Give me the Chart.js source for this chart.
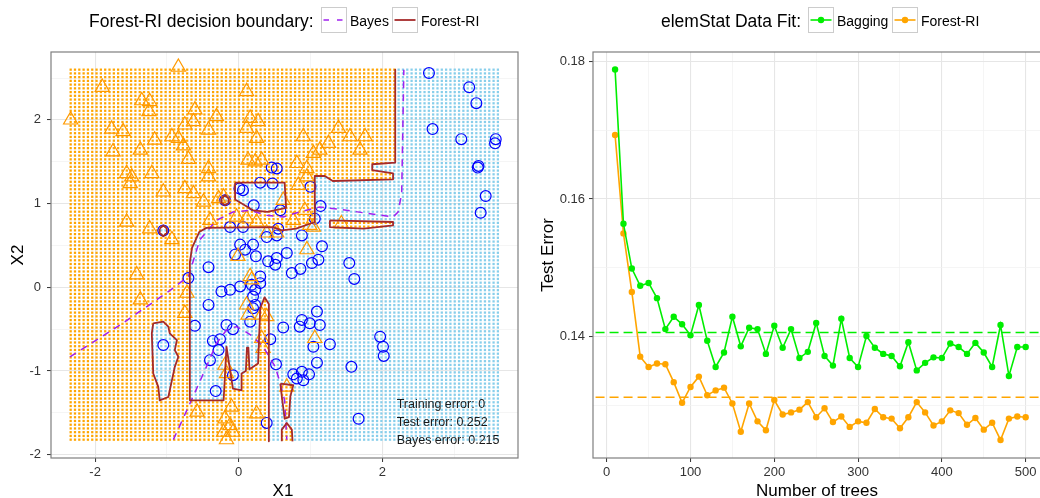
<!DOCTYPE html>
<html>
<head>
<meta charset="utf-8">
<script src="https://cdn.jsdelivr.net/npm/chart.js@4.4.1/dist/chart.umd.min.js"></script>
<style>
  body { margin: 0; background: #fff; }
  canvas { position: absolute; top: 0; }
  #boundary { left: 0; }
  #fit { left: 520px; }
</style>
</head>
<body>
<canvas id="boundary" width="520" height="498"></canvas>
<canvas id="fit" width="520" height="498"></canvas>
<script>
const FONT = "'Liberation Sans', Arial, Helvetica, sans-serif";

// ---------- right panel: test error vs number of trees ----------
const trees = [10, 20, 30, 40, 50, 60, 70, 80, 90, 100, 110, 120, 130, 140, 150, 160, 170, 180, 190, 200,
  210, 220, 230, 240, 250, 260, 270, 280, 290, 300, 310, 320, 330, 340, 350, 360, 370, 380, 390, 400,
  410, 420, 430, 440, 450, 460, 470, 480, 490, 500];
const baggingError = [0.1788, 0.1564, 0.1499, 0.1474, 0.1478, 0.1456, 0.1411, 0.1429, 0.1418, 0.1402,
  0.1446, 0.1394, 0.1356, 0.1377, 0.1429, 0.1386, 0.1413, 0.1411, 0.1375, 0.1416,
  0.1384, 0.1411, 0.1369, 0.1378, 0.1420, 0.1372, 0.1358, 0.1426, 0.1369, 0.1356,
  0.1401, 0.1384, 0.1375, 0.1372, 0.1357, 0.1392, 0.1351, 0.1362, 0.1370, 0.1369,
  0.1390, 0.1385, 0.1375, 0.1391, 0.1377, 0.1356, 0.1417, 0.1343, 0.1385, 0.1385];
const forestError = [0.1693, 0.1550, 0.1465, 0.1371, 0.1356, 0.1361, 0.1360, 0.1334, 0.1304, 0.1327,
  0.1342, 0.1315, 0.1322, 0.1326, 0.1303, 0.1262, 0.1303, 0.1277, 0.1264, 0.1308,
  0.1287, 0.1290, 0.1294, 0.1305, 0.1283, 0.1296, 0.1276, 0.1284, 0.1269, 0.1277,
  0.1275, 0.1295, 0.1283, 0.1281, 0.1267, 0.1283, 0.1305, 0.1290, 0.1271, 0.1277,
  0.1293, 0.1289, 0.1272, 0.1282, 0.1265, 0.1275, 0.1250, 0.1281, 0.1284, 0.1283];
const baggingMean = 0.1406;
const forestMean = 0.1312;
const treeGrid = [0, 50, 100, 150, 200, 250, 300, 350, 400, 450, 500];
const treeLabels = [0, 100, 200, 300, 400, 500];
const errorGrid = [0.13, 0.14, 0.15, 0.16, 0.17, 0.18];
const errorLabels = [0.14, 0.16, 0.18];

// ---------- left panel: decision boundary ----------
const x1Grid = [-2, -1, 0, 1, 2, 3];
const x1Labels = [-2, 0, 2];
const x2Grid = [-2, -1.5, -1, -0.5, 0, 0.5, 1, 1.5, 2, 2.5];
const x2Labels = [-2, -1, 0, 1, 2];

// training points, class 0 (triangles) and class 1 (circles)
const class0 = [[-2.34,2.00],[-1.90,2.39],[-0.84,2.63],[-1.35,2.23],[-1.24,2.22],[-1.25,2.10],[-1.77,1.89],
  [-1.61,1.86],[-1.17,1.76],[-1.75,1.62],[-1.37,1.64],[-0.93,1.80],[-0.84,1.78],[-0.77,1.69],[-0.75,1.94],
  [-0.63,1.98],[-0.61,2.12],[-0.42,1.88],[-0.31,2.04],[0.11,2.34],[0.16,2.02],[0.27,1.98],[0.11,1.90],
  [0.25,1.78],[-0.70,1.53],[-0.42,1.42],[-0.42,1.32],[-1.56,1.36],[-1.49,1.32],[-1.51,1.24],[-1.21,1.36],
  [-1.05,1.14],[-0.75,1.18],[-0.63,1.12],[-0.49,1.02],[-0.28,1.06],[0.13,1.52],[0.23,1.50],[0.32,1.52],
  [-1.56,0.78],[-1.24,0.70],[-0.93,0.57],[-0.40,0.80],[0.39,0.65],[0.53,0.65],[-0.01,0.37],[0.81,1.48],
  [0.95,1.42],[1.04,1.60],[0.90,1.80],[-0.21,1.08],[-0.03,0.84],[0.11,0.82],[0.25,0.78],[0.95,0.45],
  [1.04,0.72],[0.16,0.13],[1.39,1.90],[1.55,1.80],[1.76,1.80],[1.25,1.72],[1.13,1.64],[1.69,1.64],
  [0.95,1.32],[0.83,1.22],[0.62,1.04],[0.92,0.92],[0.76,0.80],[0.99,0.74],[1.43,0.76],[-1.42,0.15],
  [-1.37,-0.15],[-0.72,-0.07],[-0.75,-0.31],[0.18,0.09],[0.11,-0.21],[0.13,-0.33],[0.32,-0.33],[0.32,-0.61],
  [-0.19,-0.93],[-0.17,-1.03],[-0.58,-1.49],[-0.10,-1.43],[-0.19,-1.57],[-0.12,-1.65],[-0.21,-1.73],
  [-0.08,-1.73],[-0.17,-1.82],[0.25,-1.51],[0.67,-1.19],[1.06,-0.61],[0.34,-0.73],[0.39,-0.35]];
const class1 = [[2.65,2.56],[3.21,2.39],[3.31,2.20],[2.70,1.89],[3.10,1.77],[3.58,1.77],[3.57,1.72],
  [3.34,1.45],[3.33,1.43],[3.44,1.09],[3.37,0.89],[1.00,1.20],[1.14,0.97],[1.06,0.82],[0.88,0.62],
  [1.16,0.49],[1.54,0.29],[1.61,0.10],[0.74,0.17],[0.86,0.22],[1.02,0.29],[1.11,0.33],[1.09,-0.29],
  [0.88,-0.39],[0.99,-0.43],[1.13,-0.45],[0.85,-0.47],[0.62,-0.48],[1.04,-0.71],[1.27,-0.68],[1.97,-0.59],
  [2.01,-0.71],[2.02,-0.82],[1.09,-0.90],[1.57,-0.95],[0.76,-1.04],[0.88,-1.01],[0.98,-1.04],[0.81,-1.09],
  [0.90,-1.11],[1.67,-1.57],[0.46,1.43],[0.53,1.42],[0.01,1.18],[0.06,1.16],[0.30,1.25],[0.47,1.24],
  [0.21,0.98],[0.58,0.92],[-0.19,1.04],[-1.05,0.68],[-0.12,0.72],[0.06,0.72],[0.39,0.60],[0.55,0.70],
  [0.53,0.62],[0.02,0.51],[0.20,0.51],[-0.42,0.24],[-0.05,0.39],[0.09,0.45],[0.24,0.37],[0.41,0.31],
  [0.53,0.35],[0.51,0.27],[0.67,0.41],[-0.70,0.11],[-0.12,-0.03],[0.02,0.01],[0.30,0.13],[0.23,-0.03],
  [-0.24,-0.05],[0.20,-0.11],[0.30,0.05],[0.18,0.03],[0.23,-0.21],[-0.42,-0.21],[-0.61,-0.46],[-0.17,-0.45],
  [-0.08,-0.50],[-0.26,-0.62],[-0.36,-0.64],[-0.28,-0.75],[-0.40,-0.87],[-0.08,-1.05],[-0.32,-1.24],
  [-1.05,-0.69],[0.16,-0.41],[0.20,-0.25],[0.44,-0.62],[0.52,-0.92],[0.39,-1.62]];

// Bayes boundary (dashed)
const bayesUpper = [[-2.35,-0.83],[-1.65,-0.45],[-0.96,-0.04],[-0.70,0.13],[-0.62,0.35],[-0.54,0.57],
  [-0.31,0.80],[-0.08,0.90],[0.16,0.92],[0.39,0.86],[0.62,0.84],[0.85,0.90],[1.13,0.96],[1.50,0.92],
  [2.15,0.84],[2.22,0.90],[2.27,1.12],[2.30,2.60]];
const bayesLower = [[-0.91,-1.82],[-0.68,-1.39],[-0.45,-0.95],[-0.31,-0.67],[-0.17,-0.51],[-0.03,-0.47],
  [0.06,-0.51],[0.20,-0.59],[0.34,-0.71],[0.51,-0.95],[0.58,-1.15],[0.64,-1.35],[0.67,-1.82]];

// Forest-RI boundary pieces
const forestMain = [[2.18,2.60],[2.18,1.49],[1.86,1.47],[1.86,1.40],[2.15,1.36],[2.15,1.29],[1.31,1.27],
  [1.20,1.33],[1.06,1.33],[1.06,0.78],[0.80,0.70],[0.60,0.68],[0.48,0.72],[-0.45,0.71],[-0.55,0.66],
  [-0.65,0.47],[-0.68,0.30],[-0.68,-1.35],[-0.21,-1.35],[-0.17,-0.71],[-0.12,-0.99],[-0.08,-1.21],
  [0.04,-1.23],[0.04,-1.03],[0.10,-1.00],[0.115,-0.72],[0.135,-0.72],[0.15,-0.98],[0.27,-0.91],
  [0.30,-0.25],[0.36,-0.12],[0.42,-0.20],[0.42,-1.84]];
const forestMainOuter = [[0.42,-2.3],[4.5,-2.3],[4.5,3.0],[2.18,3.0]];
const forestFinger = [[1.27,0.80],[2.15,0.78],[2.15,0.74],[1.74,0.70],[1.27,0.72],[1.27,0.80]];
const forestPocket = [[0.58,-1.15],[0.76,-1.17],[0.72,-1.30],[0.70,-1.55],[0.64,-1.57],[0.60,-1.30],[0.58,-1.15]];
const forestBulb = [[0.60,-1.84],[0.60,-1.70],[0.67,-1.62],[0.74,-1.70],[0.75,-1.84]];
const forestBulbOuter = [[0.75,-2.3],[0.60,-2.3]];
const islandLeft = [[-1.19,-0.43],[-1.05,-0.41],[-0.98,-0.47],[-0.96,-0.55],[-0.86,-0.63],[-0.89,-0.75],
  [-0.84,-0.83],[-0.89,-0.95],[-0.98,-1.31],[-1.10,-1.35],[-1.12,-1.19],[-1.19,-1.03],[-1.21,-0.55],[-1.19,-0.43]];
const islandTop = [[-0.05,1.25],[0.64,1.25],[0.66,0.95],[0.40,0.90],[0.20,0.92],[-0.05,1.05],[-0.05,1.25]];
const ringA = [[-1.10,0.70],[-1.05,0.74],[-1.00,0.70],[-1.00,0.65],[-1.05,0.61],[-1.10,0.65],[-1.10,0.70]];
const ringB = [[-0.24,1.06],[-0.19,1.10],[-0.14,1.06],[-0.14,1.01],[-0.19,0.98],[-0.24,1.01],[-0.24,1.06]];

// prediction grid extent
const gridX = { from: -2.34, to: 3.61, n: 100 };
const gridY = { from: -1.82, to: 2.60, n: 100 };

const errorNotes = ['Training error: 0', 'Test error: 0.252', 'Bayes error: 0.215'];
const notesAt = [2.20, -1.39];

// ---------- helpers ----------
function inside(x, y, poly) {
  let hit = false;
  for (let i = 0, j = poly.length - 1; i < poly.length; j = i++) {
    const [xi, yi] = poly[i], [xj, yj] = poly[j];
    if ((yi > y) !== (yj > y) && x < (xj - xi) * (y - yi) / (yj - yi) + xi) hit = !hit;
  }
  return hit;
}
const mainRegion = forestMain.concat(forestMainOuter);
const bulbRegion = forestBulb.concat(forestBulbOuter);
function predictedBlue(x, y) {
  if (inside(x, y, mainRegion)) {
    return !(inside(x, y, forestFinger) || inside(x, y, forestPocket) || inside(x, y, bulbRegion));
  }
  return inside(x, y, islandLeft) || inside(x, y, islandTop) || inside(x, y, ringA) || inside(x, y, ringB);
}

const gridOrange = [], gridBlue = [];
for (let i = 0; i < gridX.n; i++) {
  const x = gridX.from + (gridX.to - gridX.from) * i / (gridX.n - 1);
  for (let j = 0; j < gridY.n; j++) {
    const y = gridY.from + (gridY.to - gridY.from) * j / (gridY.n - 1);
    (predictedBlue(x, y) ? gridBlue : gridOrange).push({ x, y });
  }
}

const pts = arr => arr.map(p => ({ x: p[0], y: p[1] }));
const isIn = (v, list) => list.some(m => Math.abs(m - v) < 1e-9);

function axis(min, max, grid, labels, fmt, size, pad, horizontal) {
  return {
    type: 'linear', min, max,
    afterBuildTicks: s => { s.ticks = grid.map(v => ({ value: v })); },
    afterFit: s => { if (horizontal) s.height = size; else s.width = size; },
    border: { display: false },
    grid: {
      color: c => (c.tick && isIn(c.tick.value, labels)) ? '#E6E6E6' : '#F1F1F1',
      lineWidth: c => (c.tick && isIn(c.tick.value, labels)) ? 1.1 : 0.7,
      tickLength: 4,
      tickWidth: 1,
      tickColor: c => (c.tick && isIn(c.tick.value, labels)) ? '#333333' : 'rgba(0,0,0,0)'
    },
    ticks: {
      autoSkip: false, maxRotation: 0, minRotation: 0, padding: pad,
      color: '#333333', font: { family: FONT, size: 13 },
      callback: v => isIn(v, labels) ? fmt(v) : ''
    }
  };
}

function drawKey(c, k, bx) {
  c.fillStyle = '#fff';
  c.fillRect(bx, 7, 26, 26);
  c.strokeStyle = '#CCCCCC'; c.lineWidth = 1;
  c.strokeRect(bx + 0.5, 7.5, 25, 25);
  c.strokeStyle = k.color; c.lineWidth = k.width;
  c.setLineDash(k.dash || []);
  c.beginPath(); c.moveTo(bx + 2.5, 20); c.lineTo(bx + 23.5, 20); c.stroke();
  c.setLineDash([]);
  if (k.dot) {
    c.fillStyle = k.color;
    c.beginPath(); c.arc(bx + 13, 20, 3.2, 0, Math.PI * 2); c.fill();
  }
}

function decor(cfg) {
  return {
    id: 'decor',
    afterDraw(chart) {
      const c = chart.ctx, a = chart.chartArea;
      c.save();
      c.strokeStyle = '#7F7F7F'; c.lineWidth = 1.2;
      c.strokeRect(a.left, a.top, a.right - a.left + (cfg.openRight ? 30 : 0), a.bottom - a.top);
      c.fillStyle = '#000'; c.textAlign = 'left'; c.textBaseline = 'alphabetic';
      c.font = `17.5px ${FONT}`;
      c.fillText(cfg.title, cfg.titleX, 27);
      c.font = `14px ${FONT}`;
      cfg.keys.forEach(k => {
        drawKey(c, k, k.box);
        c.fillStyle = '#000';
        c.fillText(k.label, k.box + 29, 25.5);
      });
      c.font = `17px ${FONT}`; c.textAlign = 'center';
      c.fillText(cfg.xTitle, cfg.xTitleX, 496);
      c.save();
      c.translate(cfg.yTitleX, (a.top + a.bottom) / 2);
      c.rotate(-Math.PI / 2);
      c.fillText(cfg.yTitle, 0, 0);
      c.restore();
      if (cfg.notes) {
        const xs = chart.scales.x, ys = chart.scales.y;
        const nx = xs.getPixelForValue(cfg.notesAt[0]);
        const ny = ys.getPixelForValue(cfg.notesAt[1]);
        c.font = `12.5px ${FONT}`; c.textAlign = 'left'; c.fillStyle = '#1a1a1a';
        cfg.notes.forEach((t, i) => c.fillText(t, nx, ny + 4.5 + i * 17.8));
      }
      c.restore();
    }
  };
}

const baseOptions = {
  responsive: false, animation: false, events: [], devicePixelRatio: 1,
  plugins: { legend: { display: false }, tooltip: { enabled: false } }
};

// ---------- left chart ----------
const brown = '#A52A2A', purple = '#A020F0';
const lineSet = (data, color, width, dash) => ({
  data: pts(data), showLine: true, borderColor: color, borderWidth: width, borderDash: dash || [],
  borderJoinStyle: 'round', pointRadius: 0, fill: false, order: dash ? 2 : 1
});

new Chart(document.getElementById('boundary'), {
  type: 'scatter',
  data: {
    datasets: [
      { data: gridOrange, parsing: false, pointStyle: 'rect', pointRadius: 1.6, pointBorderWidth: 0,
        backgroundColor: '#FFA500', borderWidth: 0, order: 10 },
      { data: gridBlue, parsing: false, pointStyle: 'rect', pointRadius: 1.6, pointBorderWidth: 0,
        backgroundColor: '#87CEEB', borderWidth: 0, order: 10 },
      { data: pts(class0), pointStyle: 'triangle', pointRadius: 8.2, borderColor: '#FF9A00',
        backgroundColor: 'rgba(0,0,0,0)', borderWidth: 1.2, order: 5 },
      { data: pts(class1), pointStyle: 'circle', pointRadius: 5.4, borderColor: '#0000FF',
        backgroundColor: 'rgba(0,0,0,0)', borderWidth: 1.2, order: 5 },
      lineSet(bayesUpper, purple, 1.5, [7, 6]),
      lineSet(bayesLower, purple, 1.5, [7, 6]),
      lineSet(forestMain, brown, 1.8),
      lineSet(forestFinger, brown, 1.8),
      lineSet(forestPocket, brown, 1.8),
      lineSet(forestBulb, brown, 1.8),
      lineSet(islandLeft, brown, 1.8),
      lineSet(islandTop, brown, 1.8),
      lineSet(ringA, brown, 1.8),
      lineSet(ringB, brown, 1.8)
    ]
  },
  options: Object.assign({}, baseOptions, {
    layout: { autoPadding: false, padding: { top: 52, right: 2, left: 0, bottom: 0 } },
    scales: {
      x: axis(-2.614, 3.89, x1Grid, x1Labels, v => String(v), 40, 3, true),
      y: axis(-2.039, 2.811, x2Grid, x2Labels, v => String(v), 51, 6, false)
    }
  }),
  plugins: [decor({
    title: 'Forest-RI decision boundary:', titleX: 89,
    keys: [
      { label: 'Bayes', box: 321, color: purple, width: 1.5, dash: [5.5, 8] },
      { label: 'Forest-RI', box: 392, color: brown, width: 1.8 }
    ],
    xTitle: 'X1', xTitleX: 283, yTitle: 'X2', yTitleX: 23,
    notes: errorNotes, notesAt: notesAt
  })]
});

// ---------- right chart ----------
const green = '#00EE00', orange = '#FFA500';
const seriesSet = (ys, color) => ({
  data: trees.map((t, i) => ({ x: t, y: ys[i] })), showLine: true, borderColor: color,
  backgroundColor: color, borderWidth: 1.6, pointRadius: 3.2, pointBorderWidth: 0, order: 2
});
const meanSet = (v, color) => ({
  data: [{ x: -30, y: v }, { x: 540, y: v }], showLine: true, borderColor: color,
  borderWidth: 1.5, borderDash: [9, 5], pointRadius: 0, order: 3
});

new Chart(document.getElementById('fit'), {
  type: 'scatter',
  data: {
    datasets: [
      meanSet(baggingMean, green),
      meanSet(forestMean, orange),
      seriesSet(baggingError, green),
      seriesSet(forestError, orange)
    ]
  },
  options: Object.assign({}, baseOptions, {
    layout: { autoPadding: false, padding: { top: 52, right: 0, left: 0, bottom: 0 } },
    scales: {
      x: axis(-16.35, 517.1, treeGrid, treeLabels, v => String(v), 40, 3, true),
      y: axis(0.12238, 0.18135, errorGrid, errorLabels, v => v.toFixed(2), 73, 4, false)
    }
  }),
  plugins: [decor({
    title: 'elemStat Data Fit:', titleX: 141, openRight: true,
    keys: [
      { label: 'Bagging', box: 288, color: green, width: 1.6, dot: true },
      { label: 'Forest-RI', box: 372, color: orange, width: 1.6, dot: true }
    ],
    xTitle: 'Number of trees', xTitleX: 297, yTitle: 'Test Error', yTitleX: 32.5
  })]
});
</script>
</body>
</html>
